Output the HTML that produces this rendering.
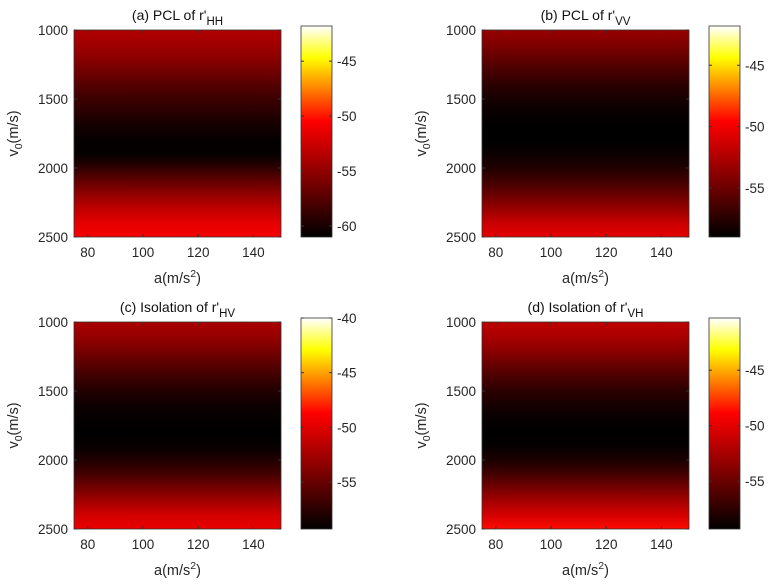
<!DOCTYPE html>
<html><head><meta charset="utf-8"><style>
body{margin:0;background:#fff;}
svg{display:block;font-family:"Liberation Sans",sans-serif;}
</style></head><body>
<svg id="fig" width="770" height="586" xmlns="http://www.w3.org/2000/svg"></svg>
<script>
const v0Samples=[1000,1100,1200,1300,1400,1500,1600,1700,1800,1900,2000,2100,2200,2300,2400,2500];
const valsA=[-53.7,-54.3,-55.2,-56.3,-57.5,-58.5,-59.4,-60.2,-60.8,-60.8,-59,-56.8,-54.8,-53,-51.5,-50.8];
const valsB=[-53.4,-54.2,-55.3,-56.4,-57.4,-58.2,-58.7,-59,-59,-58.6,-57.8,-56.5,-55,-53.3,-51.5,-50.5];
const valsC=[-52.2,-53,-54.2,-55.5,-56.8,-57.9,-58.7,-59.1,-59.3,-59,-58,-56.5,-54.5,-52.5,-50.5,-49.5];
const valsD=[-51.5,-52.3,-53.5,-54.9,-56.3,-57.5,-58.4,-59,-59.3,-59.1,-58.2,-56.6,-54.6,-52.5,-50.6,-48.6];
const xTicks=[80,100,120,140];
const yTicks=[1000,1500,2000,2500];
const cbTicksA=[-45,-50,-55,-60];
const cbTicksB=[-45,-50,-55];
const cbTicksC=[-40,-45,-50,-55];
const cbTicksD=[-45,-50,-55];
const panels=[
 {name:'a',title:'(a) PCL of r\'',sub:'HH',vals:valsA,cb:cbTicksA,cmin:-61,cmax:-41.8,px:74,py:30},
 {name:'b',title:'(b) PCL of r\'',sub:'VV',vals:valsB,cb:cbTicksB,cmin:-59,cmax:-41.8,px:482,py:30},
 {name:'c',title:'(c) Isolation of r\'',sub:'HV',vals:valsC,cb:cbTicksC,cmin:-59.3,cmax:-40,px:74,py:322},
 {name:'d',title:'(d) Isolation of r\'',sub:'VH',vals:valsD,cb:cbTicksD,cmin:-59.3,cmax:-40.3,px:482,py:322}
];
const NS='http://www.w3.org/2000/svg';
const svg=document.getElementById('fig');
function mk(tag,attrs,parent){const e=document.createElementNS(NS,tag);for(const k in attrs)e.setAttribute(k,attrs[k]);(parent||svg).appendChild(e);return e;}
function hot(t){t=Math.max(0,Math.min(1,t));const r=Math.min(1,t/0.55),g=Math.max(0,Math.min(1,(t-0.55)/0.3)),b=Math.max(0,(t-0.85)/0.15);return `rgb(${Math.round(r*255)},${Math.round(g*255)},${Math.round(b*255)})`;}
const W=207,H=207,CBX=227,CBW=31,CBTOP=-4;
const defs=mk('defs',{});
panels.forEach(p=>{
 const g=mk('g',{});
 
 
 const xs=v=>p.px+(v-75)/75*W;
 const ys=v=>p.py+(v-1000)/1500*H;
 const cnorm=v=>(v-p.cmin)/(p.cmax-p.cmin);
 const gr=mk('linearGradient',{id:'g'+p.name,x1:0,y1:0,x2:0,y2:1},defs);
 p.vals.forEach((v,i)=>{mk('stop',{offset:((v0Samples[i]-1000)/1500),'stop-color':hot(cnorm(v))},gr);});
 const hm=mk('rect',{x:p.px,y:p.py,width:W,height:H,fill:'url(#g'+p.name+')'},g);
 
 
 mk('rect',{x:p.px,y:p.py,width:W,height:H,fill:'none',stroke:'#333','stroke-width':0.8},g);
 xTicks.forEach(t=>{const x=xs(t);mk('line',{x1:x,x2:x,y1:p.py+H,y2:p.py+H-3,stroke:'#333'},g);mk('line',{x1:x,x2:x,y1:p.py,y2:p.py+3,stroke:'#333'},g);
  const tx=mk('text',{x:x,y:p.py+H+20,'text-anchor':'middle','font-size':13.5,fill:'#262626'},g);tx.textContent=t;
  
  });
 yTicks.forEach(t=>{const y=ys(t);mk('line',{x1:p.px,x2:p.px+3,y1:y,y2:y,stroke:'#333'},g);mk('line',{x1:p.px+W,x2:p.px+W-3,y1:y,y2:y,stroke:'#333'},g);
  const tx=mk('text',{x:p.px-6,y:y+5,'text-anchor':'end','font-size':13.5,fill:'#262626'},g);tx.textContent=t;
  
  });
 const ti=mk('text',{x:p.px+W/2,y:p.py-10,'text-anchor':'middle','font-size':14,fill:'#111'},g);
 
 
 ti.appendChild(document.createTextNode(p.title));
 const ts=mk('tspan',{dy:5,'font-size':11.5},ti);ts.textContent=p.sub;
 const xl=mk('text',{x:p.px+W/2,y:p.py+H+46,'text-anchor':'middle','font-size':14.5,fill:'#262626'},g);
 
 
 xl.appendChild(document.createTextNode('a(m/s'));
 const sp=mk('tspan',{dy:-6,'font-size':10.5},xl);sp.textContent='2';
 const sp2=mk('tspan',{dy:6},xl);sp2.textContent=')';
 const yl=mk('text',{transform:`translate(${p.px-56},${p.py+H/2}) rotate(-90)`,'text-anchor':'middle','font-size':14.5,fill:'#262626'},g);
 
 
 yl.appendChild(document.createTextNode('v'));
 const ys1=mk('tspan',{dy:4,'font-size':10.5},yl);ys1.textContent='0';
 const ys2=mk('tspan',{dy:-4},yl);ys2.textContent='(m/s)';
 const cx=p.px+CBX,cy=p.py+CBTOP,ch=H-CBTOP;
 const cg=mk('linearGradient',{id:'c'+p.name,x1:0,y1:1,x2:0,y2:0},defs);
 for(let i=0;i<=40;i++){mk('stop',{offset:i/40,'stop-color':hot(i/40)},cg);}
 const cb=mk('rect',{x:cx,y:cy,width:CBW,height:ch,fill:'url(#c'+p.name+')',stroke:'#333','stroke-width':0.8},g);
 
 
 p.cb.forEach(t=>{const y=cy+ch*(1-cnorm(t));mk('line',{x1:cx+CBW,x2:cx+CBW-3,y1:y,y2:y,stroke:'#333'},g);mk('line',{x1:cx,x2:cx+3,y1:y,y2:y,stroke:'#333'},g);
  const tx=mk('text',{x:cx+CBW+5,y:y+5,'font-size':13.5,fill:'#262626'},g);tx.textContent=t;
  
  });
});
</script>
</body></html>
